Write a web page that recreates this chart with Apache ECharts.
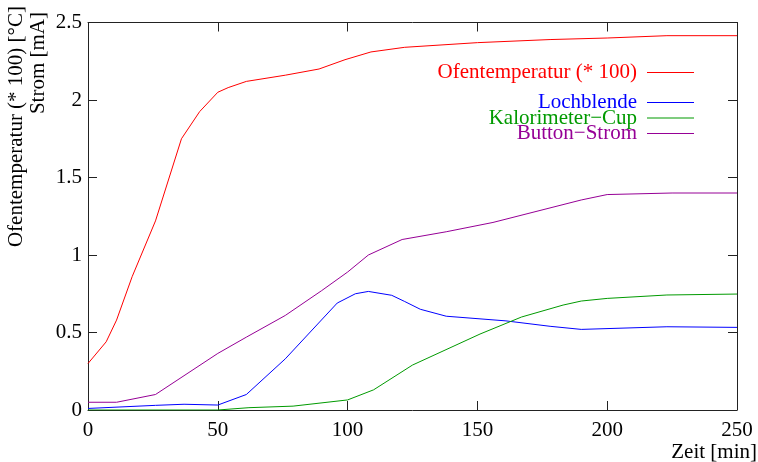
<!DOCTYPE html>
<html>
<head>
<meta charset="utf-8">
<script src="https://cdn.jsdelivr.net/npm/echarts@6/dist/echarts.min.js"></script>
<style>
  html, body { margin: 0; padding: 0; background: #fff; }
  #chart { width: 758px; height: 462px; }
</style>
</head>
<body>
<div id="chart"></div>
<script>
// Ofentemperatur (scaled by 1/100) and beam currents over time
const ofenZeit = [0, 7, 11, 17, 26, 36, 43, 50, 54, 61, 76, 89, 99, 109, 122, 150, 178, 200, 223, 250];
const ofenWerte = [0.30, 0.44, 0.58, 0.86, 1.22, 1.75, 1.925, 2.05, 2.08, 2.12, 2.16, 2.20, 2.26, 2.31, 2.34, 2.37, 2.39, 2.40, 2.415, 2.415];

const lochZeit = [0, 26, 37, 50, 61, 76, 96, 103, 108, 117, 122, 128, 138, 161, 178, 190, 223, 250];
const lochWerte = [0.01, 0.03, 0.037, 0.032, 0.10, 0.33, 0.69, 0.75, 0.765, 0.74, 0.70, 0.65, 0.605, 0.575, 0.54, 0.52, 0.537, 0.533];

const kaloZeit = [0, 50, 62, 79, 100, 110, 125, 151, 167, 183, 190, 200, 223, 250];
const kaloWerte = [0, 0, 0.015, 0.025, 0.065, 0.13, 0.29, 0.49, 0.60, 0.677, 0.703, 0.72, 0.742, 0.748];

const buttonZeit = [0, 11, 26, 50, 61, 76, 90, 100, 108, 121, 138, 156, 190, 200, 225, 250];
const buttonWerte = [0.05, 0.05, 0.10, 0.365, 0.47, 0.61, 0.77, 0.89, 1.0, 1.10, 1.15, 1.21, 1.355, 1.39, 1.40, 1.40];

const serienNamen = ['Ofentemperatur (* 100)', 'Lochblende', 'Kalorimeter\u2212Cup', 'Button\u2212Strom'];
const farben = ['#ff0000', '#0000ff', '#009a00', '#960096'];

const xTicks = { min: 0, max: 250, interval: 50 };
const yTicks = { min: 0, max: 2.5, interval: 0.5 };

const FONT = 'Liberation Serif';
const FS = 21;

function paare(xs, ys) {
  return xs.map((x, i) => [x, ys[i]]);
}

const chart = echarts.init(document.getElementById('chart'), null, { renderer: 'canvas' });

const axisLineStyle = { color: '#222', width: 1 };
const tickStyle = { show: true, inside: true, length: 9, lineStyle: { color: '#222', width: 1 } };

function linie(name, xs, ys, color) {
  return {
    name: name,
    type: 'line',
    data: paare(xs, ys),
    showSymbol: false,
    symbol: 'none',
    lineStyle: { color: color, width: 1 },
    itemStyle: { color: color },
    animation: false,
    z: 3
  };
}

const legendText = { fontFamily: FONT, fontSize: FS, padding: [0, 5, 0, 0] };

const option = {
  animation: false,
  backgroundColor: '#fff',
  grid: { left: 88, right: 21, top: 22.5, bottom: 52 },
  xAxis: [
    {
      type: 'value', position: 'bottom', ...xTicks,
      axisLine: { show: true, lineStyle: axisLineStyle },
      axisTick: tickStyle,
      splitLine: { show: false },
      axisLabel: { color: '#000', fontFamily: FONT, fontSize: FS, margin: 10 }
    },
    {
      type: 'value', position: 'top', ...xTicks,
      axisLine: { show: true, onZero: false, lineStyle: axisLineStyle },
      axisTick: tickStyle,
      splitLine: { show: false },
      axisLabel: { show: false }
    }
  ],
  yAxis: [
    {
      type: 'value', position: 'left', ...yTicks,
      axisLine: { show: true, onZero: false, lineStyle: axisLineStyle },
      axisTick: tickStyle,
      splitLine: { show: false },
      axisLabel: { color: '#000', fontFamily: FONT, fontSize: FS, margin: 6 }
    },
    {
      type: 'value', position: 'right', ...yTicks,
      axisLine: { show: true, onZero: false, lineStyle: axisLineStyle },
      axisTick: tickStyle,
      splitLine: { show: false },
      axisLabel: { show: false }
    }
  ],
  legend: [
    {
      data: [{ name: serienNamen[0], textStyle: { color: farben[0] } }],
      orient: 'vertical', align: 'right',
      right: 59, top: 57,
      icon: 'rect', itemWidth: 47, itemHeight: 1,
      itemGap: 0,
      selectedMode: false,
      textStyle: legendText
    },
    {
      data: [
        { name: serienNamen[1], textStyle: { color: farben[1] } },
        { name: serienNamen[2], textStyle: { color: farben[2] } },
        { name: serienNamen[3], textStyle: { color: farben[3] } }
      ],
      orient: 'vertical', align: 'right',
      right: 59, top: 87,
      icon: 'rect', itemWidth: 47, itemHeight: 1,
      itemGap: -5.5,
      selectedMode: false,
      textStyle: legendText
    }
  ],
  graphic: [
    {
      type: 'text', x: 16, y: 6, rotation: Math.PI / 2,
      style: { text: 'Ofentemperatur (* 100) [\u00b0C]', font: FS + 'px "Liberation Serif"', fill: '#000', align: 'right', verticalAlign: 'middle' }
    },
    {
      type: 'text', x: 38, y: 12, rotation: Math.PI / 2,
      style: { text: 'Strom [mA]', font: FS + 'px "Liberation Serif"', fill: '#000', align: 'right', verticalAlign: 'middle' }
    },
    {
      type: 'text', x: 757, y: 452,
      style: { text: 'Zeit [min]', font: FS + 'px "Liberation Serif"', fill: '#000', align: 'right', verticalAlign: 'middle' }
    }
  ],
  series: [
    linie(serienNamen[0], ofenZeit, ofenWerte, farben[0]),
    linie(serienNamen[1], lochZeit, lochWerte, farben[1]),
    linie(serienNamen[2], kaloZeit, kaloWerte, farben[2]),
    linie(serienNamen[3], buttonZeit, buttonWerte, farben[3])
  ]
};

chart.setOption(option);
</script>
</body>
</html>
